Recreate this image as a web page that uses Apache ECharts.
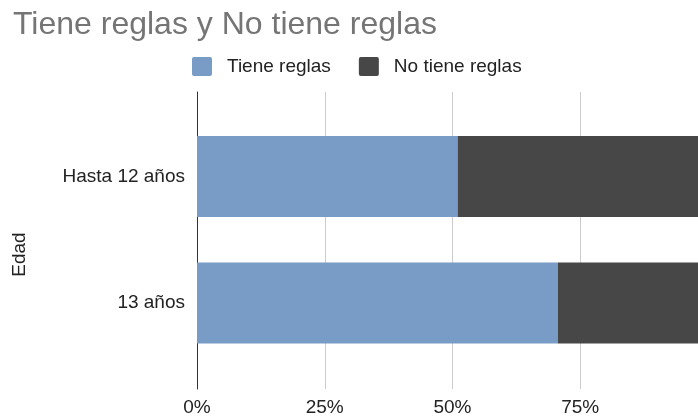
<!DOCTYPE html>
<html>
<head>
<meta charset="utf-8">
<script src="https://cdn.jsdelivr.net/npm/echarts@6/dist/echarts.min.js"></script>
<style>
    html, body { margin: 0; padding: 0; background: #fff; }
    #chart { width: 698px; height: 416px; }
</style>
</head>
<body>
<div id="chart"></div>
<script>
// datos del grafico
var categorias = ['Hasta 12 años', '13 años'];
var tieneReglas = [51, 70.6];
var noTieneReglas = [49, 29.4];
var ticksX = [0, 25, 50, 75, 100];

(function () {
    var font = 'Arial, "Liberation Sans", sans-serif';
    var myCharts = echarts.init(document.getElementById('chart'));

    // cuadrito de la leyenda con esquinas poco redondeadas
    var icono = 'path://M2,0 H18 A2,2 0 0 1 20,2 V17 A2,2 0 0 1 18,19 H2 A2,2 0 0 1 0,17 V2 A2,2 0 0 1 2,0 Z';

    var option = {
        animation: false,
        title: {
            text: 'Tiene reglas y No tiene reglas',
            left: 8,
            top: 4,
            textStyle: {
                color: '#757575',
                fontSize: 32,
                fontWeight: 'normal',
                fontFamily: font
            }
        },
        legend: {
            left: 187,
            top: 52,
            icon: icono,
            itemWidth: 20,
            itemHeight: 19,
            itemGap: 28,
            textStyle: {
                color: '#222',
                fontSize: 19,
                fontFamily: font,
                padding: [0, 0, 0, 10]
            },
            data: ['Tiene reglas', 'No tiene reglas']
        },
        // grid 0: lineas de fondo, grid 1: barras
        grid: [
            { left: 197, right: -10, top: 92, bottom: 27, outerBoundsMode: 'none', containLabel: false },
            { left: 197, right: -10, top: 113.25, bottom: 49.75, outerBoundsMode: 'none', containLabel: false }
        ],
        xAxis: [{
            gridIndex: 0,
            type: 'value',
            min: ticksX[0],
            max: ticksX[ticksX.length - 1],
            interval: 25,
            axisLine: { show: false },
            axisTick: { show: false },
            axisLabel: {
                color: '#222',
                fontSize: 19,
                fontFamily: font,
                margin: 9,
                showMaxLabel: false,
                // el 100% queda fuera del recorte
                formatter: function (v) {
                    return v >= 100 ? '' : v + '%';
                }
            },
            splitLine: { lineStyle: { color: '#cccccc', width: 1 } }
        }, {
            gridIndex: 1,
            type: 'value',
            min: ticksX[0],
            max: ticksX[ticksX.length - 1],
            show: false
        }],
        yAxis: [{
            gridIndex: 0,
            type: 'category',
            data: categorias,
            axisLine: { show: true, lineStyle: { color: '#333', width: 1 } },
            axisTick: { show: false },
            axisLabel: { show: false },
            name: 'Edad',
            nameLocation: 'middle',
            nameGap: 168,
            nameTextStyle: {
                color: '#222',
                fontSize: 19,
                fontFamily: font,
                padding: [0, 28, 0, 0]
            }
        }, {
            gridIndex: 1,
            type: 'category',
            inverse: true,
            data: categorias,
            axisLine: { show: false },
            axisTick: { show: false },
            axisLabel: {
                color: '#222',
                fontSize: 19,
                fontFamily: font,
                margin: 12
            }
        }],
        series: [{
            name: 'Tiene reglas',
            type: 'bar',
            stack: 'total',
            xAxisIndex: 1,
            yAxisIndex: 1,
            barWidth: 81,
            itemStyle: { color: '#789cc6' },
            data: tieneReglas
        }, {
            name: 'No tiene reglas',
            type: 'bar',
            stack: 'total',
            xAxisIndex: 1,
            yAxisIndex: 1,
            barWidth: 81,
            itemStyle: { color: '#474747' },
            data: noTieneReglas
        }]
    };

    myCharts.setOption(option);
})();
</script>
</body>
</html>
